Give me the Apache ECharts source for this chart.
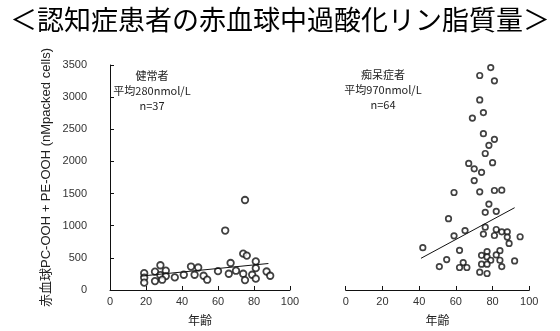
<!DOCTYPE html>
<html><head><meta charset="utf-8">
<script src="https://cdn.jsdelivr.net/npm/echarts@6/dist/echarts.min.js"></script>
<style>html,body{margin:0;padding:0;background:#fff}#c{width:560px;height:331px}</style>
</head><body><div id="c"></div>
<script>
const titleText = '＜認知症患者の赤血球中過酸化リン脂質量＞';
const yAxisTitle = '赤血球PC-OOH + PE-OOH (nMpacked cells)';
const xAxisTitle = '年齢';
const healthyNote = ['健常者', '平均280nmol/L', 'n=37'];
const dementiaNote = ['痴呆症者', '平均970nmol/L', 'n=64'];

const healthyAge = [75,64,74,76,81,81,67,28,45,49,31,25,19,60,70,66,74,87,89,79,47,41,28,31,36,19,52,54,75,81,25,29,19];
const healthyVal = [1400,925,565,535,445,340,420,385,365,350,300,285,262,293,300,253,253,288,222,237,237,237,231,216,196,191,222,160,154,176,139,160,114];

const dementiaAge = [79,73,81,73,75,69,75,81,78,76,80,67,70,74,70,59,73,81,85,78,76,82,56,76,65,82,85,88,59,75,81,88,95,89,42,62,77,84,74,82,77,55,79,84,92,64,74,77,51,62,66,85,73,77];
const dementiaVal = [3460,3337,3254,2956,2760,2674,2432,2344,2251,2123,1980,1969,1885,1830,1702,1517,1527,1548,1553,1337,1209,1224,1110,977,925,941,905,905,843,870,848,823,828,725,658,617,597,612,540,546,515,473,463,463,453,427,401,401,365,350,350,365,278,257];

const healthyTrendAge = [17, 88];
const healthyTrendVal = [216, 412];
const dementiaTrendAge = [41, 92];
const dementiaTrendVal = [493, 1280];

const zip = (a, b) => a.map((v, i) => [v, b[i]]);

const font = 'Liberation Sans Narrow, Liberation Sans, Arial, sans-serif';
const cjk = 'Noto Sans CJK JP, sans-serif';

function xAxisCfg(idx) {
  return {
    gridIndex: idx, type: 'value', min: 0, max: 100, interval: 20,
    name: xAxisTitle, nameLocation: 'middle', nameGap: 24,
    nameTextStyle: { fontFamily: cjk, fontSize: 12, color: '#222' },
    axisLine: { onZero: false, lineStyle: { color: '#111', width: 1 } },
    axisTick: { inside: true, length: 4, lineStyle: { color: '#111' } },
    axisLabel: { fontFamily: font, fontSize: 11, color: '#333', margin: 6 },
    splitLine: { show: false }
  };
}

const option = {
  animation: false,
  backgroundColor: '#fff',
  title: {
    text: titleText, left: 'center', top: 1,
    textStyle: { fontFamily: cjk, fontSize: 27, fontWeight: 'normal', color: '#000' }
  },
  grid: [
    { left: 110, top: 65, width: 180, height: 226 },
    { left: 345.7, top: 65, width: 183.6, height: 226 }
  ],
  xAxis: [xAxisCfg(0), xAxisCfg(1)],
  yAxis: [
    {
      gridIndex: 0, type: 'value', min: 0, max: 3500, interval: 500, offset: 19,
      name: yAxisTitle, nameLocation: 'middle', nameGap: 38,
      nameTextStyle: { fontFamily: font + ', ' + cjk, fontSize: 13, color: '#222' },
      axisLine: { show: true, lineStyle: { color: '#111', width: 1 } },
      axisTick: { show: true, inside: true, length: 4, lineStyle: { color: '#111' } },
      axisLabel: { fontFamily: font, fontSize: 11, color: '#333', margin: 4, formatter: v => String(v) },
      splitLine: { show: false }
    },
    {
      gridIndex: 1, type: 'value', min: 0, max: 3500, interval: 500, show: false,
      splitLine: { show: false }
    }
  ],
  graphic: [
    { type: 'text', x: 152, y: 68, style: { text: healthyNote.join('\n'), fill: '#222', font: '11px ' + cjk, align: 'center', verticalAlign: 'top', lineHeight: 15 } },
    { type: 'text', x: 383, y: 67, style: { text: dementiaNote.join('\n'), fill: '#222', font: '11px ' + cjk, align: 'center', verticalAlign: 'top', lineHeight: 15 } }
  ],
  series: [
    {
      type: 'scatter', xAxisIndex: 0, yAxisIndex: 0, data: zip(healthyAge, healthyVal),
      symbol: 'circle', symbolSize: 6.5,
      itemStyle: { color: '#fff', borderColor: '#111', borderWidth: 1.8 }
    },
    {
      type: 'line', xAxisIndex: 0, yAxisIndex: 0, data: zip(healthyTrendAge, healthyTrendVal),
      symbol: 'none', lineStyle: { color: '#111', width: 1 }
    },
    {
      type: 'scatter', xAxisIndex: 1, yAxisIndex: 1, data: zip(dementiaAge, dementiaVal),
      symbol: 'circle', symbolSize: 5.5,
      itemStyle: { color: '#fff', borderColor: '#111', borderWidth: 1.7 }
    },
    {
      type: 'line', xAxisIndex: 1, yAxisIndex: 1, data: zip(dementiaTrendAge, dementiaTrendVal),
      symbol: 'none', lineStyle: { color: '#111', width: 1 }
    }
  ]
};

const chart = echarts.init(document.getElementById('c'), null, { renderer: 'canvas' });
chart.setOption(option);
</script>
</body></html>
